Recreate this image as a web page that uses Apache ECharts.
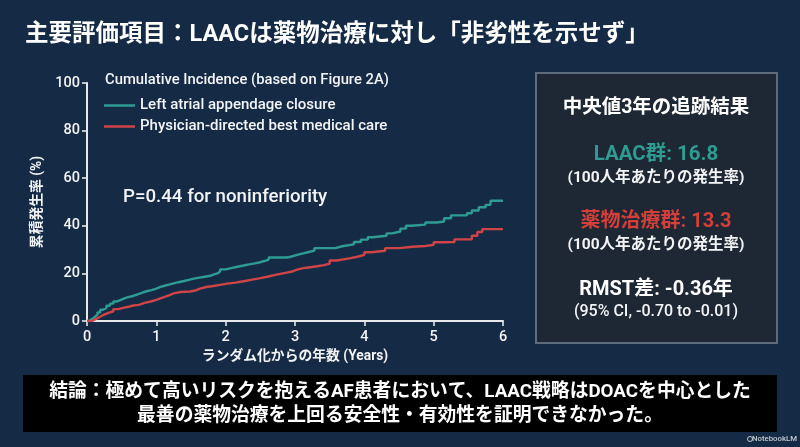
<!DOCTYPE html>
<html><head><meta charset="utf-8">
<script src="https://cdn.jsdelivr.net/npm/echarts@6/dist/echarts.min.js"></script>
<style>html,body{margin:0;padding:0;background:#152a45}#c{width:800px;height:447px}</style>
</head><body><div id="c"></div>
<script>
const laacName = 'Left atrial appendage closure';
const medName = 'Physician-directed best medical care';
const laacTimes = [0,0.03,0.06,0.09,0.12,0.15,0.19,0.23,0.28,0.33,0.38,0.43,0.48,0.53,0.58,0.65,0.72,0.79,0.86,0.93,1,1.06,1.12,1.18,1.25,1.32,1.4,1.47,1.54,1.62,1.7,1.78,1.83,1.88,1.92,2,2.08,2.17,2.26,2.34,2.42,2.5,2.56,2.62,2.88,2.94,3.03,3.12,3.2,3.28,3.5,3.58,3.68,3.85,3.95,4.05,4.12,4.32,4.4,4.52,4.6,4.68,4.88,5.05,5.15,5.25,5.48,5.55,5.65,5.75,5.82,6];
const laacValues = [0,0.6,1.2,1.9,2.7,3.6,4.7,5.5,6.4,7.3,8.2,8.8,9.4,9.9,10.4,11.1,11.8,12.5,13,13.6,14.3,14.8,15.3,15.8,16.3,16.8,17.3,17.8,18.2,18.6,19,19.6,20,20.8,21.7,22.2,22.8,23.3,23.8,24.2,24.7,25.2,25.8,26.7,27,27.8,28.4,29,29.6,30.6,30.6,31.4,32.2,33.2,34.2,35.2,35.8,36.8,37.6,38.8,40,40.5,41.4,41.8,43.2,44.4,45.3,46.4,47.8,48.8,50.5,50.5];
const medTimes = [0,0.06,0.1,0.14,0.19,0.24,0.3,0.38,0.45,0.52,0.6,0.67,0.75,0.83,0.92,1,1.07,1.14,1.2,1.25,1.35,1.49,1.56,1.63,1.72,1.82,1.92,2.02,2.14,2.26,2.38,2.5,2.6,2.7,2.79,2.88,2.96,3.03,3.12,3.22,3.32,3.42,3.5,3.6,3.7,3.8,3.9,4,4.1,4.3,4.5,4.7,4.88,5,5.1,5.3,5.55,5.63,5.7,6];
const medValues = [0,0.4,1,1.8,2.6,3.3,4.1,5,5.5,6,6.5,6.8,7.6,8.2,8.9,9.6,10.3,11,11.6,12.2,12.4,12.8,13.6,14.3,14.7,15.2,15.7,16.1,16.7,17.4,18,18.6,19.3,19.8,20.3,20.8,21.6,22.2,22.6,23,23.5,24.1,25.4,25.9,26.4,27,27.8,28.9,29.5,30.6,31.2,31.5,32,33.1,33.2,34.3,35.8,37.4,38.6,38.6];
const xTicks = [0,1,2,3,4,5,6];
const yTicks = [0,20,40,60,80,100];
const pack = (t, v) => t.map((x, i) => [x, v[i]]);
const font = 'Roboto, "Noto Sans CJK JP", sans-serif';
const white = '#f2f4f6', teal = '#2f9c94', red = '#cf4447';
const chart = echarts.init(document.getElementById('c'), null, {renderer:'canvas'});
const axisStyle = {show:true, onZero:false, lineStyle:{color:'#e6e8ea', width:2}};
const txt = (x, y, text, size, color, weight, align) => ({
  type:'text', x, y, z:10,
  style:{text, fill:color||white, font:`${weight||500} ${size}px ${font}`, textAlign:align||'center', textVerticalAlign:'middle'}
});
chart.setOption({
  animation:false,
  backgroundColor:'#152a45',
  textStyle:{fontFamily:font},
  title:{text:'主要評価項目：LAACは薬物治療に対し「非劣性を示せず」', left:20, top:18,
    textStyle:{color:'#ffffff', fontSize:23.5, fontWeight:700, fontFamily:font}},
  grid:{left:87, right:297, top:83, bottom:126},
  legend:{orient:'vertical', left:99, top:93, itemWidth:31, itemHeight:2.5, itemGap:6,
    icon:'rect', data:[laacName, medName],
    textStyle:{color:white, fontSize:15, fontWeight:500, fontFamily:font}},
  xAxis:{type:'value', min:0, max:6, interval:1, axisLine:axisStyle,
    axisTick:{show:true, length:5, lineStyle:{color:'#e6e8ea', width:1.6}}, splitLine:{show:false},
    axisLabel:{color:white, fontSize:14.5, fontWeight:500, margin:9, formatter:v => xTicks.includes(v) ? v : ''},
    name:'ランダム化からの年数 (Years)', nameLocation:'middle', nameGap:28,
    nameTextStyle:{color:white, fontSize:13.8, fontWeight:700}},
  yAxis:{type:'value', min:0, max:100, interval:20, axisLine:axisStyle,
    axisTick:{show:true, length:5, lineStyle:{color:'#e6e8ea', width:1.6}}, splitLine:{show:false},
    axisLabel:{color:white, fontSize:14.5, fontWeight:500, margin:7, formatter:v => yTicks.includes(v) ? v : ''},
    name:'累積発生率 (%)', nameLocation:'middle', nameGap:37, nameRotate:90,
    nameTextStyle:{color:white, fontSize:13.8, fontWeight:700}},
  series:[
    {name:laacName, type:'line', step:'end', showSymbol:false, data:pack(laacTimes, laacValues),
     lineStyle:{color:teal, width:2.4}, itemStyle:{color:teal}},
    {name:medName, type:'line', step:'end', showSymbol:false, data:pack(medTimes, medValues),
     lineStyle:{color:red, width:2.4}, itemStyle:{color:red}}
  ],
  graphic:[
    txt(105, 80, 'Cumulative Incidence (based on Figure 2A)', 14.8, white, 500, 'left'),
    txt(123, 197, 'P=0.44 for noninferiority', 18.7, white, 500, 'left'),
    {type:'rect', z:5, shape:{x:536, y:73, width:241, height:270},
      style:{fill:'#1e2734', stroke:'#5d6b7b', lineWidth:2}},
    txt(656, 108, '中央値3年の追跡結果', 19.5, '#ffffff', 700),
    txt(656, 155, 'LAAC群: 16.8', 20.5, teal, 700),
    txt(656, 178, '(100人年あたりの発生率)', 15.5, white, 700),
    txt(656, 222, '薬物治療群: 13.3', 20, '#d43f3a', 700),
    txt(656, 245, '(100人年あたりの発生率)', 15.5, white, 700),
    txt(656, 290, 'RMST差: -0.36年', 20, '#ffffff', 700),
    txt(656, 312, '(95% CI, -0.70 to -0.01)', 16, white, 500),
    {type:'rect', z:5, shape:{x:23, y:375, width:754, height:57}, style:{fill:'#000000'}},
    txt(400, 392, '結論：極めて高いリスクを抱えるAF患者において、LAAC戦略はDOACを中心とした', 18.8, '#ffffff', 700),
    txt(400, 416, '最善の薬物治療を上回る安全性・有効性を証明できなかった。', 18.8, '#ffffff', 700),
    {type:'circle', z:10, shape:{cx:750, cy:439, r:2.5}, style:{fill:'none', stroke:'#c3c9d0', lineWidth:1}},
    txt(797, 439, 'NotebookLM', 7.8, '#c3c9d0', 500, 'right')
  ]
});
</script></body></html>
